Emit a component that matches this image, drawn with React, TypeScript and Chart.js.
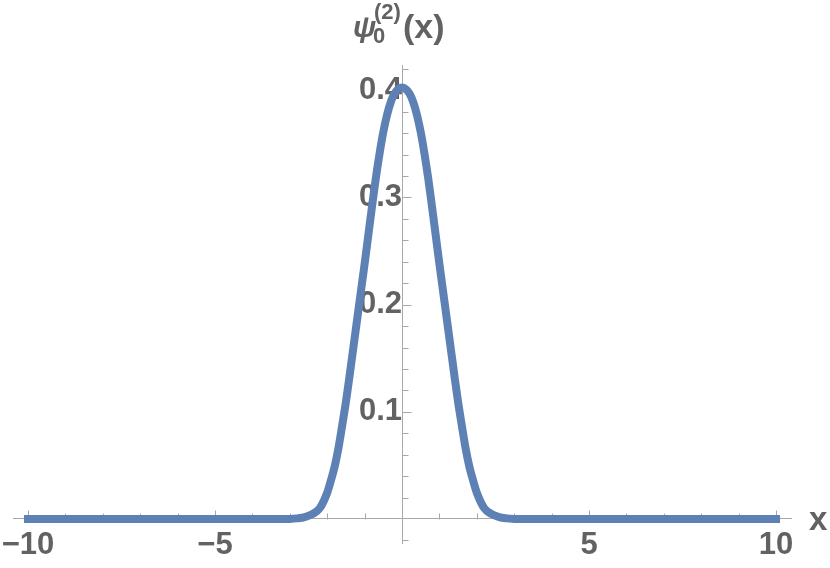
import React, { useEffect, useRef } from "react";
import { Chart, registerables } from "chart.js";

Chart.register(...registerables);

// Curve samples
const xValues = [
  -10, -3.2, -3.0, -2.8, -2.6, -2.4, -2.2, -2.0, -1.9, -1.8, -1.7, -1.6, -1.5,
  -1.4, -1.3, -1.2, -1.1, -1.0, -0.9, -0.8, -0.7, -0.6, -0.5, -0.4, -0.3, -0.2,
  -0.1, 0, 0.1, 0.2, 0.3, 0.4, 0.5, 0.6, 0.7, 0.8, 0.9, 1.0, 1.1, 1.2, 1.3, 1.4,
  1.5, 1.6, 1.7, 1.8, 1.9, 2.0, 2.2, 2.4, 2.6, 2.8, 3.0, 3.2, 10,
];
const psiValues = [
  0, 0, 0.0001, 0.0006, 0.0017, 0.0045, 0.01, 0.0245, 0.036, 0.049, 0.066,
  0.087, 0.109, 0.134, 0.16, 0.186, 0.212, 0.238, 0.265, 0.292, 0.318, 0.341,
  0.361, 0.377, 0.389, 0.397, 0.401, 0.4025, 0.401, 0.397, 0.389, 0.377, 0.361,
  0.341, 0.318, 0.292, 0.265, 0.238, 0.212, 0.186, 0.16, 0.134, 0.109, 0.087,
  0.066, 0.049, 0.036, 0.0245, 0.01, 0.0045, 0.0017, 0.0006, 0.0001, 0, 0,
];

// Tick positions and labels
const xTicks = [-10, -9, -8, -7, -6, -5, -4, -3, -2, -1, 0, 1, 2, 3, 4, 5, 6, 7, 8, 9, 10];
const xLabelled = [-10, -5, 5, 10];
const yTicks = [
  -0.02, 0, 0.02, 0.04, 0.06, 0.08, 0.1, 0.12, 0.14, 0.16, 0.18, 0.2, 0.22,
  0.24, 0.26, 0.28, 0.3, 0.32, 0.34, 0.36, 0.38, 0.4, 0.42,
];
const yLabelled = [0.1, 0.2, 0.3, 0.4];

const X_MIN = -10.4;
const X_MAX = 10.4;
const Y_MIN = -0.0224;
const Y_MAX = 0.4236;

const LINE_COLOR = "#5E81B5";
const AXIS_COLOR = "#a8a8a8";
const TEXT_COLOR = "#626262";
const FONT = "'Liberation Sans', Arial, sans-serif";

const near = (a: number, b: number) => Math.abs(a - b) < 1e-9;

const decorPlugin = {
  id: "decor",
  beforeDatasetsDraw(chart: any) {
    const { ctx } = chart;
    const xs = chart.scales.x;
    const ys = chart.scales.y;
    const x0 = xs.getPixelForValue(0);
    const y0 = ys.getPixelForValue(0);
    ctx.save();
    ctx.strokeStyle = AXIS_COLOR;
    ctx.lineWidth = 1;
    ctx.beginPath();
    for (const v of xTicks) {
      if (v === 0) continue;
      const px = Math.round(xs.getPixelForValue(v)) + 0.5;
      const len = xLabelled.some((m) => near(m, v)) ? 9 : 6;
      ctx.moveTo(px, Math.round(y0) + 0.5);
      ctx.lineTo(px, Math.round(y0) + 0.5 - len);
    }
    for (const v of yTicks) {
      if (v === 0) continue;
      const py = Math.round(ys.getPixelForValue(v)) + 0.5;
      const len = yLabelled.some((m) => near(m, v)) ? 9 : 6;
      ctx.moveTo(Math.round(x0) + 0.5, py);
      ctx.lineTo(Math.round(x0) + 0.5 + len, py);
    }
    ctx.stroke();
    ctx.restore();
  },
  afterDraw(chart: any) {
    const { ctx } = chart;
    ctx.save();
    ctx.fillStyle = TEXT_COLOR;
    ctx.textBaseline = "alphabetic";
    ctx.textAlign = "left";
    // axis label x
    ctx.font = `bold 33px ${FONT}`;
    ctx.fillText("x", 809, 530);
    // title psi_0^(2)(x)
    ctx.font = `italic bold 30px ${FONT}`;
    ctx.fillText("ψ", 353, 37);
    ctx.font = `bold 22px ${FONT}`;
    ctx.fillText("(2)", 374, 19);
    ctx.fillText("0", 373, 43);
    ctx.font = `bold 34px ${FONT}`;
    ctx.fillText("(x)", 403, 38);
    ctx.restore();
  },
};

export default function App() {
  const ref = useRef<HTMLCanvasElement | null>(null);

  useEffect(() => {
    document.body.style.margin = "0";
    const canvas = ref.current;
    if (!canvas) return;
    const points = xValues.map((x, i) => ({ x, y: psiValues[i] }));
    const chart = new Chart(canvas, {
      type: "line",
      data: {
        datasets: [
          {
            data: points,
            borderColor: LINE_COLOR,
            borderWidth: 8,
            borderCapStyle: "square",
            borderJoinStyle: "round",
            pointRadius: 0,
            fill: false,
            cubicInterpolationMode: "monotone",
          },
        ],
      },
      options: {
        animation: false,
        responsive: false,
        devicePixelRatio: 1,
        layout: { padding: { left: 13, right: 39, top: 65, bottom: 25 } },
        plugins: { legend: { display: false }, tooltip: { enabled: false } },
        scales: {
          x: {
            type: "linear",
            min: X_MIN,
            max: X_MAX,
            position: { y: 0 },
            afterBuildTicks: (scale: any) => {
              scale.ticks = xTicks.map((v) => ({ value: v }));
            },
            afterFit: (scale: any) => {
              scale.paddingLeft = 0;
              scale.paddingRight = 0;
            },
            grid: { display: false, drawTicks: false },
            border: { display: true, color: AXIS_COLOR, width: 1 },
            ticks: {
              autoSkip: false,
              maxRotation: 0,
              padding: 8,
              color: TEXT_COLOR,
              font: { family: FONT, size: 31, weight: "bold" },
              callback: (v: any) => {
                const n = Number(v);
                if (!xLabelled.some((m) => near(m, n))) return "";
                return n < 0 ? "\u2212" + Math.abs(n) : String(n);
              },
            },
          },
          y: {
            type: "linear",
            min: Y_MIN,
            max: Y_MAX,
            position: { x: 0 },
            afterBuildTicks: (scale: any) => {
              scale.ticks = yTicks.map((v) => ({ value: v }));
            },
            afterFit: (scale: any) => {
              scale.paddingTop = 0;
              scale.paddingBottom = 0;
            },
            grid: { display: false, drawTicks: false },
            border: { display: true, color: AXIS_COLOR, width: 1 },
            ticks: {
              autoSkip: false,
              padding: 7,
              color: TEXT_COLOR,
              font: { family: FONT, size: 31, weight: "bold" },
              callback: (v: any) => {
                const n = Number(v);
                if (!yLabelled.some((m) => near(m, n))) return "";
                return n.toFixed(1);
              },
            },
          },
        },
      },
      plugins: [decorPlugin],
    } as any);
    return () => chart.destroy();
  }, []);

  return (
    <div style={{ width: 830, height: 568, background: "#fff" }}>
      <canvas ref={ref} width={830} height={568} />
    </div>
  );
}
